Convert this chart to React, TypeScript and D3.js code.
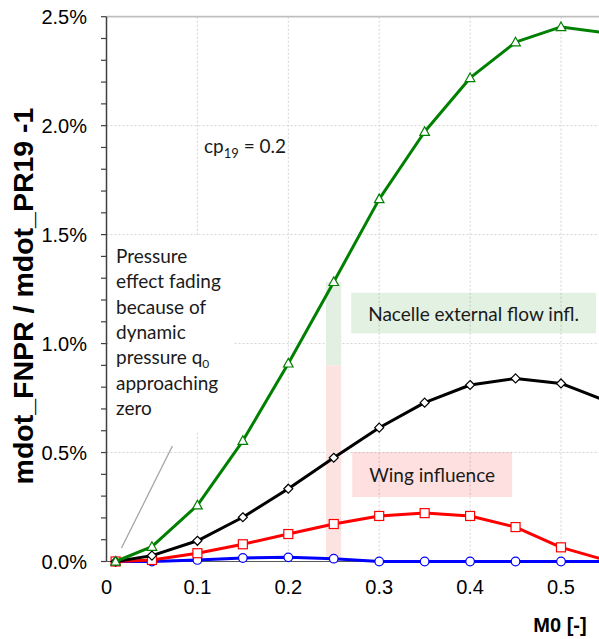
import React from 'react';
import * as d3 from 'd3';

// ---- data ----
const mach = [0.01, 0.05, 0.1, 0.15, 0.2, 0.25, 0.3, 0.35, 0.4, 0.45, 0.5, 0.55];
const greenTriangle = [0, 0.068, 0.258, 0.554, 0.909, 1.283, 1.663, 1.972, 2.219, 2.383, 2.453, 2.425];
const blackDiamond = [0, 0.027, 0.095, 0.203, 0.334, 0.476, 0.614, 0.729, 0.81, 0.84, 0.817, 0.736];
const redSquare = [0, 0.007, 0.038, 0.079, 0.126, 0.172, 0.209, 0.222, 0.209, 0.158, 0.065, 0.005];
const blueCircle = [0, 0.0, 0.007, 0.016, 0.019, 0.013, 0, 0, 0, 0, 0, 0];

const xTicks = [0, 0.1, 0.2, 0.3, 0.4, 0.5];
const yMajorTicks = [0, 0.5, 1.0, 1.5, 2.0, 2.5];
const yMinorTicks = d3.range(0, 26).map((i) => i / 10);

const leftNote = ['Pressure', 'effect fading', 'because of', 'dynamic', 'pressure q', 'approaching', 'zero'];

const W = 599;
const H = 639;
const plotLeft = 106.5;
const plotRight = 599;
const plotTop = 16.7;
const plotBottom = 561.5;

const x = d3.scaleLinear().domain([0, 0.55]).range([plotLeft, plotLeft + 0.55 * 909]);
const y = d3.scaleLinear().domain([0, 2.5]).range([plotBottom, plotTop]);

type Series = { values: number[]; color: string; marker: 'tri' | 'dia' | 'sq' | 'circ' };
const series: Series[] = [
  { values: blueCircle, color: '#0000ff', marker: 'circ' },
  { values: redSquare, color: '#ff0000', marker: 'sq' },
  { values: blackDiamond, color: '#000000', marker: 'dia' },
  { values: greenTriangle, color: '#008000', marker: 'tri' },
];

const line = d3
  .line<[number, number]>()
  .x((d) => x(d[0]))
  .y((d) => y(d[1]));

function Marker({ cx, cy, type, color }: { cx: number; cy: number; type: string; color: string }) {
  if (type === 'circ') return <circle cx={cx} cy={cy} r={4.3} fill="#fff" stroke={color} strokeWidth={1.2} />;
  if (type === 'sq') return <rect x={cx - 4.5} y={cy - 4.5} width={9} height={9} fill="#fff" stroke={color} strokeWidth={1.2} />;
  if (type === 'dia')
    return (
      <path d={`M${cx},${cy - 4.5}L${cx + 4.5},${cy}L${cx},${cy + 4.5}L${cx - 4.5},${cy}Z`} fill="#fff" stroke={color} strokeWidth={1.2} />
    );
  return (
    <path d={`M${cx},${cy - 5}L${cx + 4.8},${cy + 3.6}L${cx - 4.8},${cy + 3.6}Z`} fill="#fff" stroke={color} strokeWidth={1.2} />
  );
}

export default function App() {
  const sans = '"Liberation Sans", Arial, sans-serif';
  const note = 'Lato, "Open Sans", sans-serif';
  const bandX0 = 0.2415;
  const bandX1 = 0.2582;
  return (
    <svg width={W} height={H} style={{ position: 'absolute', left: 0, top: 0, background: '#fff' }}>
      <defs>
        <clipPath id="plotClip">
          <rect x={plotLeft} y={plotTop - 10} width={plotRight - plotLeft} height={plotBottom - plotTop + 20} />
        </clipPath>
      </defs>
      <rect x={0} y={0} width={W} height={H} fill="#fff" />

      {/* gridlines */}
      {xTicks.slice(1).map((t) => (
        <line key={'gx' + t} x1={x(t)} x2={x(t)} y1={plotTop} y2={plotBottom} stroke="#d4d4d4" strokeWidth={1} strokeDasharray="2,2" />
      ))}
      {yMajorTicks.slice(1, -1).map((t) => (
        <line key={'gy' + t} x1={plotLeft} x2={plotRight} y1={y(t)} y2={y(t)} stroke="#d4d4d4" strokeWidth={1} strokeDasharray="2,2" />
      ))}
      <line x1={plotLeft} x2={plotRight} y1={y(2.5)} y2={y(2.5)} stroke="#bfbfbf" strokeWidth={1.8} />

      {/* highlight band at M0 = 0.25 */}
      <rect x={x(bandX0)} width={x(bandX1) - x(bandX0)} y={y(greenTriangle[5])} height={y(0.9) - y(greenTriangle[5])} fill="#e3efe3" />
      <rect x={x(bandX0)} width={x(bandX1) - x(bandX0)} y={y(0.9)} height={y(0.005) - y(0.9)} fill="#fde2e2" />

      {/* annotation boxes */}
      <rect x={x(0.2692)} y={y(1.233)} width={x(0.5385) - x(0.2692)} height={y(1.047) - y(1.233)} fill="rgba(0,128,0,0.11)" />
      <text x={(x(0.2692) + x(0.5385)) / 2} y={320.5} textAnchor="middle" fontFamily={note} fontSize={19} fill="#1a1a1a">
        Nacelle external flow infl.
      </text>
      <rect x={x(0.2703)} y={y(0.502)} width={x(0.4462) - x(0.2703)} height={y(0.296) - y(0.502)} fill="rgba(255,0,0,0.12)" />
      <text x={(x(0.2703) + x(0.4462)) / 2} y={481.5} textAnchor="middle" fontFamily={note} fontSize={19} fill="#1a1a1a">
        Wing influence
      </text>

      {/* left white note box */}
      <rect x={110} y={235} width={123} height={197} fill="#fff" />
      {leftNote.map((s, i) => (
        <text key={s} x={116} y={263 + i * 25.3} fontFamily={note} fontSize={19} fill="#1a1a1a">
          {s}
          {s === 'pressure q' ? (
            <tspan dy={4} fontSize={12}>
              0
            </tspan>
          ) : null}
        </text>
      ))}
      <line x1={x(0.0165)} y1={y(0.062)} x2={x(0.0725)} y2={y(0.53)} stroke="#a6a6a6" strokeWidth={1.3} />

      <text x={204} y={153} fontFamily={note} fontSize={19} fill="#1a1a1a">
        cp
        <tspan dy={5} fontSize={13}>
          19
        </tspan>
        <tspan dy={-5}> = 0.2</tspan>
      </text>

      {/* axes */}
      <line x1={plotLeft} x2={plotRight} y1={plotBottom} y2={plotBottom} stroke="#595959" strokeWidth={1} />
      <line x1={plotLeft} x2={plotLeft} y1={plotTop} y2={plotBottom} stroke="#404040" strokeWidth={1.5} />
      {yMinorTicks.map((t) => (
        <line key={'ty' + t} x1={plotLeft - 5.5} x2={plotLeft} y1={y(t)} y2={y(t)} stroke="#404040" strokeWidth={1.2} />
      ))}
      {yMajorTicks.map((t) => (
        <text key={'ly' + t} x={87} y={y(t) + 7} textAnchor="end" fontFamily={sans} fontSize={20} fill="#000">
          {d3.format('.1f')(t) + '%'}
        </text>
      ))}
      {xTicks.map((t) => (
        <text key={'lx' + t} x={x(t)} y={593.5} textAnchor="middle" fontFamily={sans} fontSize={20} fill="#000">
          {t === 0 ? '0' : d3.format('.1f')(t)}
        </text>
      ))}

      {/* series */}
      <g clipPath="url(#plotClip)">
        {series.map((s) => (
          <g key={s.color}>
            <path d={line(mach.map((m, i) => [m, s.values[i]]))!} fill="none" stroke={s.color} strokeWidth={3} strokeLinejoin="round" />
            {mach.map((m, i) => (
              <Marker key={i} cx={x(m)} cy={y(s.values[i])} type={s.marker} color={s.color} />
            ))}
          </g>
        ))}
      </g>

      {/* axis titles */}
      <text x={560} y={632} textAnchor="middle" fontFamily={sans} fontSize={20} fontWeight="bold" fill="#000">
        M0 [-]
      </text>
      <text
        transform={`translate(33,296) rotate(-90)`}
        textAnchor="middle"
        fontFamily={sans}
        fontSize={28.5}
        fontWeight="bold"
        fill="#000"
      >
        mdot_FNPR / mdot_PR19 -1
      </text>
    </svg>
  );
}
